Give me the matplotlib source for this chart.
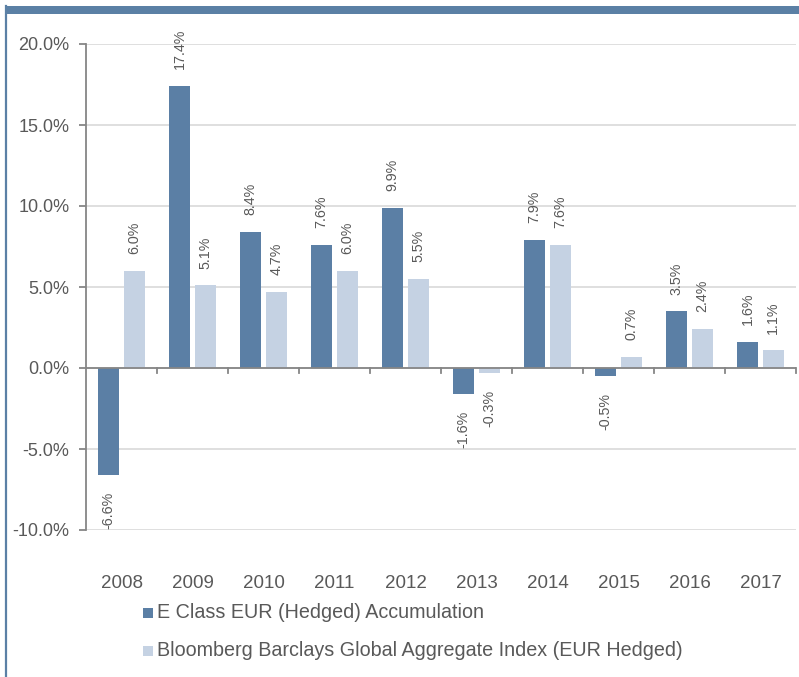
import numpy as np
import matplotlib.pyplot as plt
from matplotlib.patches import Rectangle
from matplotlib.lines import Line2D
from matplotlib.ticker import FuncFormatter

plt.rcParams['font.family'] = ['Liberation Sans', 'DejaVu Sans']

years = ['2008', '2009', '2010', '2011', '2012', '2013', '2014', '2015', '2016', '2017']
fund = [-6.6, 17.4, 8.4, 7.6, 9.9, -1.6, 7.9, -0.5, 3.5, 1.6]
index = [6.0, 5.1, 4.7, 6.0, 5.5, -0.3, 7.6, 0.7, 2.4, 1.1]
series_names = ['E Class EUR (Hedged) Accumulation',
                'Bloomberg Barclays Global Aggregate Index (EUR Hedged)']

dark = '#5b7fa5'
light = '#c5d2e3'
grey_txt = '#595959'
axis_col = '#868686'

W, H = 799, 677
fig = plt.figure(figsize=(W / 100, H / 100), dpi=100)
ax = fig.add_axes([86 / W, 1 - 530 / H, 710 / W, 486 / H])

x = np.arange(len(years))
w = 0.3
gap = 0.03
b1 = ax.bar(x - w / 2 - gap, fund, w, color=dark, zorder=3)
b2 = ax.bar(x + w / 2 + gap, index, w, color=light, zorder=3)

for bars, vals in [(b1, fund), (b2, index)]:
    for rect, v in zip(bars, vals):
        cx = rect.get_x() + rect.get_width() / 2
        off = 12 if v >= 0 else -12
        ax.annotate(f'{v:.1f}%', (cx, v), xytext=(0, off), textcoords='offset points',
                    rotation=90, ha='center', va='bottom' if v >= 0 else 'top',
                    fontsize=10.3, color=grey_txt)

ax.set_xlim(-0.5, len(years) - 0.5)
ax.set_ylim(-10, 20)
ax.set_yticks(np.arange(-10, 20.1, 5))
ax.yaxis.set_major_formatter(FuncFormatter(lambda v, p: f'{v:.1f}%'))
ax.grid(axis='y', color='#d9d9d9', linewidth=1.2, zorder=0)

for s in ['top', 'right', 'bottom']:
    ax.spines[s].set_visible(False)
ax.spines['left'].set_color(axis_col)
ax.spines['left'].set_linewidth(1.3)
ax.axhline(0, color=axis_col, linewidth=1.3, zorder=4)

# x tick marks at category boundaries on the zero line
ax.set_xticks([])
for b in np.arange(-0.5, len(years), 1.0)[1:]:
    ax.plot([b, b], [0, -0.32], color=axis_col, linewidth=1.3, clip_on=False, zorder=4)
for i, yr in enumerate(years):
    ax.text(i, -13.3, yr, ha='center', va='center', fontsize=13.5, color=grey_txt)

ax.tick_params(axis='y', colors=axis_col, labelcolor=grey_txt, labelsize=13,
               length=5, width=1.3, pad=7)

# legend drawn by hand
for k, (name, col) in enumerate(zip(series_names, [dark, light])):
    yc = 613 + 38 * k
    fig.add_artist(Rectangle((143 / W, 1 - (yc + 5) / H), 10 / W, 10 / H,
                             transform=fig.transFigure, color=col, lw=0))
    fig.text(157 / W, 1 - yc / H, name, ha='left', va='center',
             fontsize=14.2, color=grey_txt)

# frame decoration
fig.add_artist(Rectangle((5 / W, 1 - 14 / H), 794 / W, 8 / H,
                         transform=fig.transFigure, color='#5b80a5', lw=0))
fig.add_artist(Line2D([6.3 / W, 6.3 / W], [0, 1 - 6 / H],
                      transform=fig.transFigure, color='#5b80a5', lw=1.6))

fig.savefig('out.png', dpi=100)
